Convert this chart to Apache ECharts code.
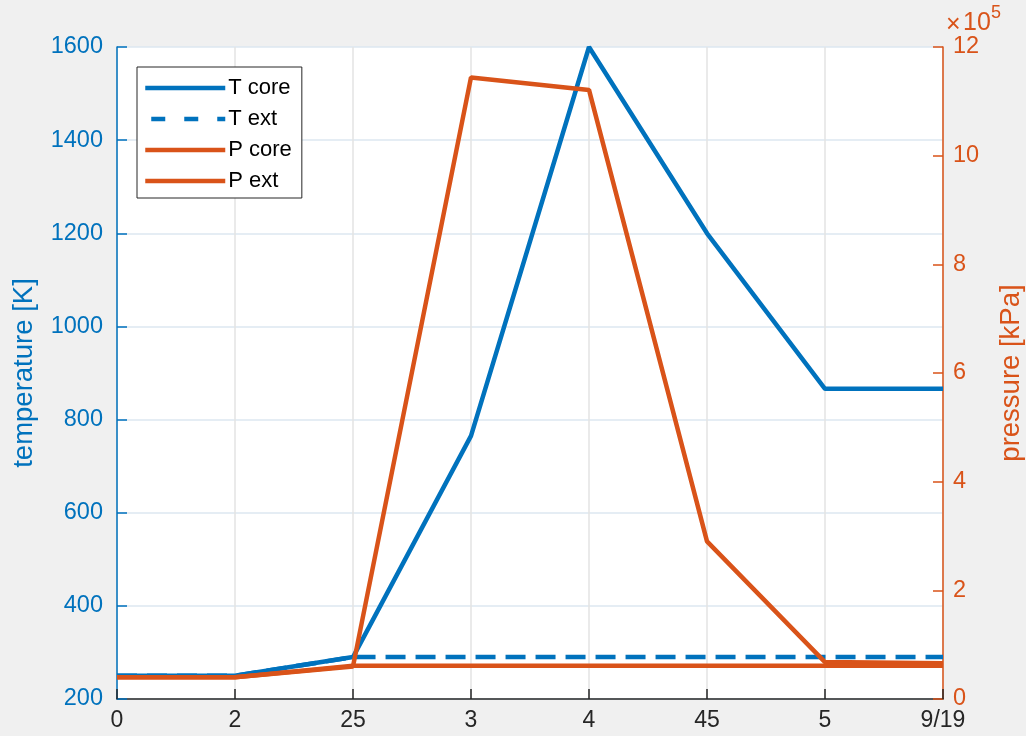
<!DOCTYPE html>
<html>
<head>
<meta charset="utf-8">
<script src="https://cdn.jsdelivr.net/npm/echarts@6/dist/echarts.min.js"></script>
<style>
html,body{margin:0;padding:0;background:#f0f0f0;}
#c{width:1026px;height:736px;}
</style>
</head>
<body>
<div id="c"></div>
<script>
const categories = ['0', '2', '25', '3', '4', '45', '5', '9/19'];
const tCore = [250, 250, 290, 765, 1600, 1200, 866, 866];
const tExt  = [250, 250, 290, 290, 290, 290, 290, 290];
const pCore = [40000, 40000, 60000, 1144000, 1121000, 290000, 68000, 66000];
const pExt  = [40000, 40000, 61000, 61000, 61000, 61000, 61000, 61000];
const tTicks = {min: 200, max: 1600, interval: 200};
const pTicks = {min: 0, max: 1200000, interval: 200000};

const BLUE = '#0072BD', ORANGE = '#D95319', DARK = '#262626';
const FONT = '"Liberation Sans", Arial, sans-serif';
const LW = 4.5;

const chart = echarts.init(document.getElementById('c'));
chart.setOption({
  backgroundColor: '#f0f0f0',
  animation: false,
  grid: {left: 117, right: 83, top: 47, bottom: 37, show: true, backgroundColor: '#ffffff', borderWidth: 0, containLabel: false, outerBoundsMode: 'none'},
  legend: {
    orient: 'vertical', left: 137, top: 67,
    backgroundColor: '#ffffff', borderColor: DARK, borderWidth: 1,
    padding: [10, 10, 6, 6], itemGap: 9, itemWidth: 80, itemHeight: 22,
    itemStyle: {opacity: 0},
    textStyle: {fontFamily: FONT, fontSize: 22, color: '#000', padding: [0, 0, 0, -2]},
    data: [
      {name: 'T core', lineStyle: {width: LW, color: BLUE}},
      {name: 'T ext', lineStyle: {width: LW, color: BLUE, type: [14, 19], dashOffset: -6}},
      {name: 'P core', lineStyle: {width: LW, color: ORANGE}},
      {name: 'P ext', lineStyle: {width: LW, color: ORANGE}}
    ]
  },
  graphic: [
    {type: 'text', x: 946, y: 13, style: {text: '×', fontFamily: FONT, fontSize: 25, fill: ORANGE}},
    {type: 'text', x: 963, y: 11, style: {text: '10', fontFamily: FONT, fontSize: 25, fill: ORANGE}},
    {type: 'text', x: 991, y: 4, style: {text: '5', fontFamily: FONT, fontSize: 18, fill: ORANGE}}
  ],
  xAxis: {
    type: 'category', data: categories, boundaryGap: false,
    axisLine: {lineStyle: {color: DARK, width: 1.5}},
    axisTick: {inside: true, length: 10, lineStyle: {color: DARK, width: 1.5}, alignWithLabel: true},
    axisLabel: {fontFamily: FONT, fontSize: 23, color: DARK, margin: 10},
    splitLine: {show: true, lineStyle: {color: '#e3e3e3', width: 1.5}}
  },
  yAxis: [{
    type: 'value', position: 'left', min: tTicks.min, max: tTicks.max, interval: tTicks.interval,
    name: 'temperature [K]', nameLocation: 'middle', nameGap: 79, nameRotate: 90,
    nameTextStyle: {fontFamily: FONT, fontSize: 27.5, color: BLUE},
    axisLine: {show: true, lineStyle: {color: BLUE, width: 1.5}},
    axisTick: {show: true, inside: true, length: 10, lineStyle: {color: BLUE, width: 1.5}},
    axisLabel: {fontFamily: FONT, fontSize: 23.5, color: BLUE, margin: 14, formatter: v => String(v)},
    splitLine: {show: true, lineStyle: {color: '#dde7f1', width: 1.5}}
  }, {
    type: 'value', position: 'right', min: pTicks.min, max: pTicks.max, interval: pTicks.interval,
    name: 'pressure [kPa]', nameLocation: 'middle', nameGap: 54, nameRotate: 90,
    nameTextStyle: {fontFamily: FONT, fontSize: 27.5, color: ORANGE},
    axisLine: {show: true, lineStyle: {color: ORANGE, width: 1.5}},
    axisTick: {show: true, inside: true, length: 10, lineStyle: {color: ORANGE, width: 1.5}},
    axisLabel: {fontFamily: FONT, fontSize: 23.5, color: ORANGE, margin: 10, formatter: v => String(v / 100000)},
    splitLine: {show: false}
  }],
  series: [
    {name: 'T core', type: 'line', yAxisIndex: 0, data: tCore, symbol: 'none', lineStyle: {color: BLUE, width: LW}, itemStyle: {color: BLUE}, z: 2},
    {name: 'T ext', type: 'line', yAxisIndex: 0, data: tExt, symbol: 'none', lineStyle: {color: BLUE, width: LW, type: [20, 10]}, itemStyle: {color: BLUE}, z: 2},
    {name: 'P core', type: 'line', yAxisIndex: 1, data: pCore, symbol: 'none', lineStyle: {color: ORANGE, width: LW}, itemStyle: {color: ORANGE}, z: 3},
    {name: 'P ext', type: 'line', yAxisIndex: 1, data: pExt, symbol: 'none', lineStyle: {color: ORANGE, width: LW}, itemStyle: {color: ORANGE}, z: 3}
  ]
});
</script>
</body>
</html>
